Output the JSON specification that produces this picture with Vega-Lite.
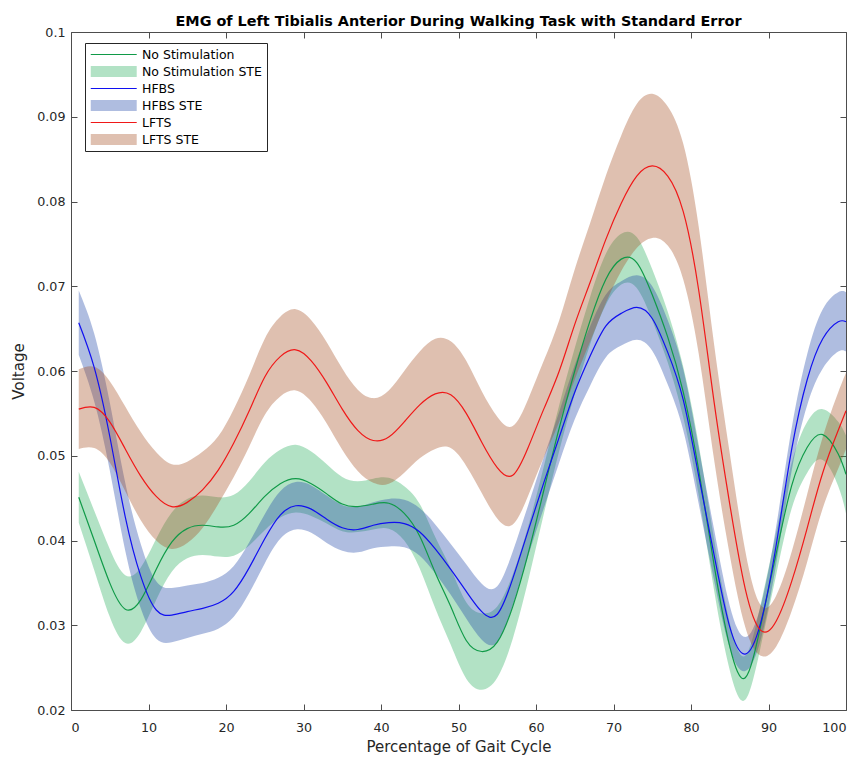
{
  "$schema": "https://vega.github.io/schema/vega-lite/v6.json",
  "width": 775,
  "height": 678,
  "autosize": {"type": "none"},
  "padding": {"left": 71, "top": 32, "right": 17, "bottom": 47},
  "background": "white",
  "title": {"text": "EMG of Left Tibialis Anterior During Walking Task with Standard Error", "font": "DejaVu Sans", "fontSize": 14.4, "fontWeight": "bold", "color": "#000000", "anchor": "middle", "offset": 0, "dy": 3},
  "data": {"values": [
    {"x":1,"s":"No Stimulation","b":"No Stimulation STE","m":0.0451,"lo":0.0421,"hi":0.0481},
    {"x":3,"s":"No Stimulation","b":"No Stimulation STE","m":0.0400,"lo":0.0365,"hi":0.0435},
    {"x":5,"s":"No Stimulation","b":"No Stimulation STE","m":0.0350,"lo":0.0310,"hi":0.0390},
    {"x":7,"s":"No Stimulation","b":"No Stimulation STE","m":0.0319,"lo":0.0279,"hi":0.0359},
    {"x":9,"s":"No Stimulation","b":"No Stimulation STE","m":0.0330,"lo":0.0292,"hi":0.0368},
    {"x":11,"s":"No Stimulation","b":"No Stimulation STE","m":0.0366,"lo":0.0330,"hi":0.0402},
    {"x":13,"s":"No Stimulation","b":"No Stimulation STE","m":0.0398,"lo":0.0363,"hi":0.0433},
    {"x":15,"s":"No Stimulation","b":"No Stimulation STE","m":0.0414,"lo":0.0379,"hi":0.0449},
    {"x":17,"s":"No Stimulation","b":"No Stimulation STE","m":0.0418,"lo":0.0383,"hi":0.0453},
    {"x":19,"s":"No Stimulation","b":"No Stimulation STE","m":0.0416,"lo":0.0381,"hi":0.0451},
    {"x":21,"s":"No Stimulation","b":"No Stimulation STE","m":0.0418,"lo":0.0382,"hi":0.0454},
    {"x":23,"s":"No Stimulation","b":"No Stimulation STE","m":0.0432,"lo":0.0394,"hi":0.0470},
    {"x":25,"s":"No Stimulation","b":"No Stimulation STE","m":0.0452,"lo":0.0412,"hi":0.0492},
    {"x":27,"s":"No Stimulation","b":"No Stimulation STE","m":0.0467,"lo":0.0427,"hi":0.0507},
    {"x":29,"s":"No Stimulation","b":"No Stimulation STE","m":0.0473,"lo":0.0433,"hi":0.0513},
    {"x":31,"s":"No Stimulation","b":"No Stimulation STE","m":0.0467,"lo":0.0429,"hi":0.0505},
    {"x":33,"s":"No Stimulation","b":"No Stimulation STE","m":0.0455,"lo":0.0420,"hi":0.0490},
    {"x":35,"s":"No Stimulation","b":"No Stimulation STE","m":0.0443,"lo":0.0411,"hi":0.0475},
    {"x":37,"s":"No Stimulation","b":"No Stimulation STE","m":0.0440,"lo":0.0410,"hi":0.0470},
    {"x":39,"s":"No Stimulation","b":"No Stimulation STE","m":0.0443,"lo":0.0413,"hi":0.0473},
    {"x":41,"s":"No Stimulation","b":"No Stimulation STE","m":0.0444,"lo":0.0414,"hi":0.0474},
    {"x":43,"s":"No Stimulation","b":"No Stimulation STE","m":0.0432,"lo":0.0400,"hi":0.0464},
    {"x":45,"s":"No Stimulation","b":"No Stimulation STE","m":0.0405,"lo":0.0367,"hi":0.0443},
    {"x":47,"s":"No Stimulation","b":"No Stimulation STE","m":0.0362,"lo":0.0320,"hi":0.0404},
    {"x":49,"s":"No Stimulation","b":"No Stimulation STE","m":0.0322,"lo":0.0277,"hi":0.0367},
    {"x":51,"s":"No Stimulation","b":"No Stimulation STE","m":0.0282,"lo":0.0237,"hi":0.0327},
    {"x":53,"s":"No Stimulation","b":"No Stimulation STE","m":0.0269,"lo":0.0224,"hi":0.0314},
    {"x":55,"s":"No Stimulation","b":"No Stimulation STE","m":0.0280,"lo":0.0238,"hi":0.0322},
    {"x":57,"s":"No Stimulation","b":"No Stimulation STE","m":0.0322,"lo":0.0284,"hi":0.0360},
    {"x":59,"s":"No Stimulation","b":"No Stimulation STE","m":0.0385,"lo":0.0353,"hi":0.0417},
    {"x":61,"s":"No Stimulation","b":"No Stimulation STE","m":0.0459,"lo":0.0431,"hi":0.0487},
    {"x":63,"s":"No Stimulation","b":"No Stimulation STE","m":0.0533,"lo":0.0506,"hi":0.0560},
    {"x":65,"s":"No Stimulation","b":"No Stimulation STE","m":0.0600,"lo":0.0573,"hi":0.0627},
    {"x":67,"s":"No Stimulation","b":"No Stimulation STE","m":0.0660,"lo":0.0632,"hi":0.0688},
    {"x":69,"s":"No Stimulation","b":"No Stimulation STE","m":0.0708,"lo":0.0678,"hi":0.0738},
    {"x":71,"s":"No Stimulation","b":"No Stimulation STE","m":0.0732,"lo":0.0702,"hi":0.0762},
    {"x":73,"s":"No Stimulation","b":"No Stimulation STE","m":0.0728,"lo":0.0698,"hi":0.0758},
    {"x":75,"s":"No Stimulation","b":"No Stimulation STE","m":0.0690,"lo":0.0660,"hi":0.0720},
    {"x":77,"s":"No Stimulation","b":"No Stimulation STE","m":0.0640,"lo":0.0610,"hi":0.0670},
    {"x":79,"s":"No Stimulation","b":"No Stimulation STE","m":0.0575,"lo":0.0545,"hi":0.0605},
    {"x":81,"s":"No Stimulation","b":"No Stimulation STE","m":0.0483,"lo":0.0453,"hi":0.0513},
    {"x":83,"s":"No Stimulation","b":"No Stimulation STE","m":0.0370,"lo":0.0340,"hi":0.0400},
    {"x":85,"s":"No Stimulation","b":"No Stimulation STE","m":0.0275,"lo":0.0247,"hi":0.0303},
    {"x":87,"s":"No Stimulation","b":"No Stimulation STE","m":0.0238,"lo":0.0212,"hi":0.0264},
    {"x":89,"s":"No Stimulation","b":"No Stimulation STE","m":0.0300,"lo":0.0275,"hi":0.0325},
    {"x":91,"s":"No Stimulation","b":"No Stimulation STE","m":0.0385,"lo":0.0360,"hi":0.0410},
    {"x":93,"s":"No Stimulation","b":"No Stimulation STE","m":0.0465,"lo":0.0438,"hi":0.0492},
    {"x":95,"s":"No Stimulation","b":"No Stimulation STE","m":0.0510,"lo":0.0480,"hi":0.0540},
    {"x":97,"s":"No Stimulation","b":"No Stimulation STE","m":0.0525,"lo":0.0495,"hi":0.0555},
    {"x":99,"s":"No Stimulation","b":"No Stimulation STE","m":0.0502,"lo":0.0464,"hi":0.0540},
    {"x":100,"s":"No Stimulation","b":"No Stimulation STE","m":0.0478,"lo":0.0432,"hi":0.0524},
    {"x":1,"s":"HFBS","b":"HFBS STE","m":0.0657,"lo":0.0619,"hi":0.0695},
    {"x":3,"s":"HFBS","b":"HFBS STE","m":0.0604,"lo":0.0564,"hi":0.0644},
    {"x":5,"s":"HFBS","b":"HFBS STE","m":0.0523,"lo":0.0483,"hi":0.0563},
    {"x":7,"s":"HFBS","b":"HFBS STE","m":0.0428,"lo":0.0388,"hi":0.0468},
    {"x":9,"s":"HFBS","b":"HFBS STE","m":0.0358,"lo":0.0320,"hi":0.0396},
    {"x":11,"s":"HFBS","b":"HFBS STE","m":0.0318,"lo":0.0284,"hi":0.0352},
    {"x":13,"s":"HFBS","b":"HFBS STE","m":0.0312,"lo":0.0280,"hi":0.0344},
    {"x":15,"s":"HFBS","b":"HFBS STE","m":0.0316,"lo":0.0285,"hi":0.0347},
    {"x":17,"s":"HFBS","b":"HFBS STE","m":0.0320,"lo":0.0290,"hi":0.0350},
    {"x":19,"s":"HFBS","b":"HFBS STE","m":0.0326,"lo":0.0296,"hi":0.0356},
    {"x":21,"s":"HFBS","b":"HFBS STE","m":0.0340,"lo":0.0310,"hi":0.0370},
    {"x":23,"s":"HFBS","b":"HFBS STE","m":0.0368,"lo":0.0338,"hi":0.0398},
    {"x":25,"s":"HFBS","b":"HFBS STE","m":0.0402,"lo":0.0373,"hi":0.0431},
    {"x":27,"s":"HFBS","b":"HFBS STE","m":0.0430,"lo":0.0402,"hi":0.0458},
    {"x":29,"s":"HFBS","b":"HFBS STE","m":0.0441,"lo":0.0413,"hi":0.0469},
    {"x":31,"s":"HFBS","b":"HFBS STE","m":0.0437,"lo":0.0409,"hi":0.0465},
    {"x":33,"s":"HFBS","b":"HFBS STE","m":0.0425,"lo":0.0397,"hi":0.0453},
    {"x":35,"s":"HFBS","b":"HFBS STE","m":0.0415,"lo":0.0388,"hi":0.0442},
    {"x":37,"s":"HFBS","b":"HFBS STE","m":0.0413,"lo":0.0386,"hi":0.0440},
    {"x":39,"s":"HFBS","b":"HFBS STE","m":0.0418,"lo":0.0391,"hi":0.0445},
    {"x":41,"s":"HFBS","b":"HFBS STE","m":0.0421,"lo":0.0393,"hi":0.0449},
    {"x":43,"s":"HFBS","b":"HFBS STE","m":0.0420,"lo":0.0392,"hi":0.0448},
    {"x":45,"s":"HFBS","b":"HFBS STE","m":0.0410,"lo":0.0382,"hi":0.0438},
    {"x":47,"s":"HFBS","b":"HFBS STE","m":0.0390,"lo":0.0361,"hi":0.0419},
    {"x":49,"s":"HFBS","b":"HFBS STE","m":0.0366,"lo":0.0336,"hi":0.0396},
    {"x":51,"s":"HFBS","b":"HFBS STE","m":0.0340,"lo":0.0308,"hi":0.0372},
    {"x":53,"s":"HFBS","b":"HFBS STE","m":0.0316,"lo":0.0283,"hi":0.0349},
    {"x":55,"s":"HFBS","b":"HFBS STE","m":0.0313,"lo":0.0280,"hi":0.0346},
    {"x":57,"s":"HFBS","b":"HFBS STE","m":0.0355,"lo":0.0323,"hi":0.0387},
    {"x":59,"s":"HFBS","b":"HFBS STE","m":0.0412,"lo":0.0382,"hi":0.0442},
    {"x":61,"s":"HFBS","b":"HFBS STE","m":0.0468,"lo":0.0438,"hi":0.0498},
    {"x":63,"s":"HFBS","b":"HFBS STE","m":0.0522,"lo":0.0492,"hi":0.0552},
    {"x":65,"s":"HFBS","b":"HFBS STE","m":0.0575,"lo":0.0543,"hi":0.0607},
    {"x":67,"s":"HFBS","b":"HFBS STE","m":0.0618,"lo":0.0583,"hi":0.0653},
    {"x":69,"s":"HFBS","b":"HFBS STE","m":0.0653,"lo":0.0616,"hi":0.0690},
    {"x":71,"s":"HFBS","b":"HFBS STE","m":0.0668,"lo":0.0630,"hi":0.0706},
    {"x":73,"s":"HFBS","b":"HFBS STE","m":0.0675,"lo":0.0637,"hi":0.0713},
    {"x":75,"s":"HFBS","b":"HFBS STE","m":0.0662,"lo":0.0624,"hi":0.0700},
    {"x":77,"s":"HFBS","b":"HFBS STE","m":0.0622,"lo":0.0584,"hi":0.0660},
    {"x":79,"s":"HFBS","b":"HFBS STE","m":0.0566,"lo":0.0530,"hi":0.0602},
    {"x":81,"s":"HFBS","b":"HFBS STE","m":0.0476,"lo":0.0443,"hi":0.0509},
    {"x":83,"s":"HFBS","b":"HFBS STE","m":0.0382,"lo":0.0352,"hi":0.0412},
    {"x":85,"s":"HFBS","b":"HFBS STE","m":0.0298,"lo":0.0273,"hi":0.0323},
    {"x":87,"s":"HFBS","b":"HFBS STE","m":0.0266,"lo":0.0246,"hi":0.0286},
    {"x":89,"s":"HFBS","b":"HFBS STE","m":0.0303,"lo":0.0283,"hi":0.0323},
    {"x":91,"s":"HFBS","b":"HFBS STE","m":0.0395,"lo":0.0373,"hi":0.0417},
    {"x":93,"s":"HFBS","b":"HFBS STE","m":0.0508,"lo":0.0483,"hi":0.0533},
    {"x":95,"s":"HFBS","b":"HFBS STE","m":0.0590,"lo":0.0560,"hi":0.0620},
    {"x":97,"s":"HFBS","b":"HFBS STE","m":0.0638,"lo":0.0603,"hi":0.0673},
    {"x":99,"s":"HFBS","b":"HFBS STE","m":0.0658,"lo":0.0623,"hi":0.0693},
    {"x":100,"s":"HFBS","b":"HFBS STE","m":0.0658,"lo":0.0623,"hi":0.0693},
    {"x":1,"s":"LFTS","b":"LFTS STE","m":0.0555,"lo":0.0508,"hi":0.0602},
    {"x":3,"s":"LFTS","b":"LFTS STE","m":0.0557,"lo":0.0509,"hi":0.0605},
    {"x":5,"s":"LFTS","b":"LFTS STE","m":0.0540,"lo":0.0492,"hi":0.0588},
    {"x":7,"s":"LFTS","b":"LFTS STE","m":0.0508,"lo":0.0458,"hi":0.0558},
    {"x":9,"s":"LFTS","b":"LFTS STE","m":0.0476,"lo":0.0424,"hi":0.0528},
    {"x":11,"s":"LFTS","b":"LFTS STE","m":0.0452,"lo":0.0400,"hi":0.0504},
    {"x":13,"s":"LFTS","b":"LFTS STE","m":0.0440,"lo":0.0390,"hi":0.0490},
    {"x":15,"s":"LFTS","b":"LFTS STE","m":0.0445,"lo":0.0397,"hi":0.0493},
    {"x":17,"s":"LFTS","b":"LFTS STE","m":0.0460,"lo":0.0415,"hi":0.0505},
    {"x":19,"s":"LFTS","b":"LFTS STE","m":0.0483,"lo":0.0443,"hi":0.0523},
    {"x":21,"s":"LFTS","b":"LFTS STE","m":0.0515,"lo":0.0475,"hi":0.0555},
    {"x":23,"s":"LFTS","b":"LFTS STE","m":0.0553,"lo":0.0511,"hi":0.0595},
    {"x":25,"s":"LFTS","b":"LFTS STE","m":0.0593,"lo":0.0548,"hi":0.0638},
    {"x":27,"s":"LFTS","b":"LFTS STE","m":0.0617,"lo":0.0570,"hi":0.0664},
    {"x":29,"s":"LFTS","b":"LFTS STE","m":0.0625,"lo":0.0577,"hi":0.0673},
    {"x":31,"s":"LFTS","b":"LFTS STE","m":0.0612,"lo":0.0564,"hi":0.0660},
    {"x":33,"s":"LFTS","b":"LFTS STE","m":0.0586,"lo":0.0538,"hi":0.0634},
    {"x":35,"s":"LFTS","b":"LFTS STE","m":0.0555,"lo":0.0507,"hi":0.0603},
    {"x":37,"s":"LFTS","b":"LFTS STE","m":0.0530,"lo":0.0482,"hi":0.0578},
    {"x":39,"s":"LFTS","b":"LFTS STE","m":0.0518,"lo":0.0468,"hi":0.0568},
    {"x":41,"s":"LFTS","b":"LFTS STE","m":0.0522,"lo":0.0467,"hi":0.0577},
    {"x":43,"s":"LFTS","b":"LFTS STE","m":0.0540,"lo":0.0480,"hi":0.0600},
    {"x":45,"s":"LFTS","b":"LFTS STE","m":0.0560,"lo":0.0497,"hi":0.0623},
    {"x":47,"s":"LFTS","b":"LFTS STE","m":0.0573,"lo":0.0508,"hi":0.0638},
    {"x":49,"s":"LFTS","b":"LFTS STE","m":0.0572,"lo":0.0509,"hi":0.0635},
    {"x":51,"s":"LFTS","b":"LFTS STE","m":0.0550,"lo":0.0488,"hi":0.0612},
    {"x":53,"s":"LFTS","b":"LFTS STE","m":0.0516,"lo":0.0456,"hi":0.0576},
    {"x":55,"s":"LFTS","b":"LFTS STE","m":0.0486,"lo":0.0426,"hi":0.0546},
    {"x":57,"s":"LFTS","b":"LFTS STE","m":0.0477,"lo":0.0419,"hi":0.0535},
    {"x":59,"s":"LFTS","b":"LFTS STE","m":0.0510,"lo":0.0453,"hi":0.0567},
    {"x":61,"s":"LFTS","b":"LFTS STE","m":0.0555,"lo":0.0498,"hi":0.0612},
    {"x":63,"s":"LFTS","b":"LFTS STE","m":0.0600,"lo":0.0540,"hi":0.0660},
    {"x":65,"s":"LFTS","b":"LFTS STE","m":0.0655,"lo":0.0590,"hi":0.0720},
    {"x":67,"s":"LFTS","b":"LFTS STE","m":0.0705,"lo":0.0635,"hi":0.0775},
    {"x":69,"s":"LFTS","b":"LFTS STE","m":0.0755,"lo":0.0680,"hi":0.0830},
    {"x":71,"s":"LFTS","b":"LFTS STE","m":0.0798,"lo":0.0718,"hi":0.0878},
    {"x":73,"s":"LFTS","b":"LFTS STE","m":0.0830,"lo":0.0745,"hi":0.0915},
    {"x":75,"s":"LFTS","b":"LFTS STE","m":0.0842,"lo":0.0757,"hi":0.0927},
    {"x":77,"s":"LFTS","b":"LFTS STE","m":0.0830,"lo":0.0748,"hi":0.0912},
    {"x":79,"s":"LFTS","b":"LFTS STE","m":0.0788,"lo":0.0708,"hi":0.0868},
    {"x":81,"s":"LFTS","b":"LFTS STE","m":0.0695,"lo":0.0620,"hi":0.0770},
    {"x":83,"s":"LFTS","b":"LFTS STE","m":0.0562,"lo":0.0494,"hi":0.0630},
    {"x":85,"s":"LFTS","b":"LFTS STE","m":0.0443,"lo":0.0383,"hi":0.0503},
    {"x":87,"s":"LFTS","b":"LFTS STE","m":0.0343,"lo":0.0298,"hi":0.0388},
    {"x":89,"s":"LFTS","b":"LFTS STE","m":0.0294,"lo":0.0264,"hi":0.0324},
    {"x":91,"s":"LFTS","b":"LFTS STE","m":0.0305,"lo":0.0275,"hi":0.0335},
    {"x":93,"s":"LFTS","b":"LFTS STE","m":0.0352,"lo":0.0317,"hi":0.0387},
    {"x":95,"s":"LFTS","b":"LFTS STE","m":0.0415,"lo":0.0375,"hi":0.0455},
    {"x":97,"s":"LFTS","b":"LFTS STE","m":0.0480,"lo":0.0438,"hi":0.0522},
    {"x":99,"s":"LFTS","b":"LFTS STE","m":0.0530,"lo":0.0485,"hi":0.0575},
    {"x":100,"s":"LFTS","b":"LFTS STE","m":0.0553,"lo":0.0508,"hi":0.0598}
  ]},
  "layer": [
    {
      "mark": {"type": "area", "interpolate": "natural", "fillOpacity": 0.35, "strokeWidth": 0},
      "encoding": {
        "x": {"field": "x", "type": "quantitative", "scale": {"domain": [0, 100], "nice": false, "zero": false},
          "axis": {"orient": "bottom", "values": [0,10,20,30,40,50,60,70,80,90,100], "title": "Percentage of Gait Cycle", "labelPadding": 17, "titlePadding": 6}},
        "y": {"field": "lo", "type": "quantitative", "scale": {"domain": [0.02, 0.1], "nice": false, "zero": false},
          "axis": {"orient": "left", "values": [0.02,0.03,0.04,0.05,0.06,0.07,0.08,0.09,0.1], "format": "~g", "title": "Voltage", "labelPadding": 12, "titlePadding": 10}},
        "y2": {"field": "hi"},
        "color": {"field": "b", "type": "nominal",
          "scale": {"domain": ["No Stimulation","No Stimulation STE","HFBS","HFBS STE","LFTS","LFTS STE"],
                    "range": ["#109a48","#23ac59","#1010f0","#1a42a6","#f01818","#a44b1d"]},
          "legend": {"orient": "none", "legendX": 14, "legendY": 11, "title": null, "direction": "vertical",
            "fillColor": "white", "strokeColor": "#262626", "padding": 5,
            "labelFont": "DejaVu Sans", "labelFontSize": 12.5, "labelColor": "#000000",
            "rowPadding": 4, "labelOffset": 39, "symbolSize": 132, "symbolStrokeWidth": 1.2, "symbolType": "M-1,0H7",
            "encode": {"symbols": {"update": {
              "shape": {"signal": "indexof(datum.value,'STE')>=0 ? 'M-1,-0.95H7V0.95H-1Z' : 'M-1,0H7'"},
              "fill": {"signal": "indexof(datum.value,'STE')>=0 ? scale('color', datum.value) : 'transparent'"},
              "stroke": {"signal": "indexof(datum.value,'STE')>=0 ? 'transparent' : scale('color', datum.value)"},
              "strokeOpacity": {"signal": "indexof(datum.value,'STE')>=0 ? 0 : 1"},
              "fillOpacity": {"value": 0.35}, "opacity": {"value": 1}
            }}}}
        }
      }
    },
    {
      "mark": {"type": "line", "interpolate": "natural", "strokeWidth": 1.2},
      "encoding": {
        "x": {"field": "x", "type": "quantitative",
          "axis": {"orient": "top", "values": [0,10,20,30,40,50,60,70,80,90,100], "labels": false, "title": null}},
        "y": {"field": "m", "type": "quantitative",
          "axis": {"orient": "right", "values": [0.02,0.03,0.04,0.05,0.06,0.07,0.08,0.09,0.1], "labels": false, "title": null}},
        "color": {"field": "s", "type": "nominal"}
      }
    }
  ],
  "resolve": {"axis": {"x": "independent", "y": "independent"}},
  "config": {
    "view": {"stroke": "#4d4d4d", "strokeWidth": 1},
    "axis": {"domain": false, "grid": false, "ticks": true, "tickSize": -6, "tickColor": "#4d4d4d", "tickWidth": 1,
      "labelFont": "DejaVu Sans", "labelFontSize": 12.7, "labelColor": "#262626",
      "titleFont": "DejaVu Sans", "titleFontSize": 15, "titleFontWeight": "normal", "titleColor": "#262626"}
  }
}
